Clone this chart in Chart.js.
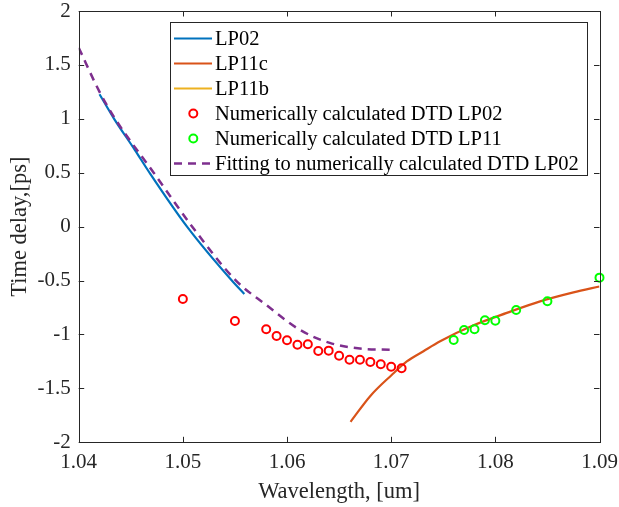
<!DOCTYPE html>
<html>
<head>
<meta charset="utf-8">
<script src="https://cdn.jsdelivr.net/npm/chart.js@4/dist/chart.umd.min.js"></script>
<style>
  html, body { margin: 0; padding: 0; background: #ffffff; }
  canvas { display: block; }
</style>
</head>
<body>
<canvas id="c" width="619" height="507"></canvas>
<script>
// ---- data ----
const xTicks = [1.04, 1.05, 1.06, 1.07, 1.08, 1.09];
const xTickLabels = ["1.04", "1.05", "1.06", "1.07", "1.08", "1.09"];
const yTicks = [-2, -1.5, -1, -0.5, 0, 0.5, 1, 1.5, 2];
const yTickLabels = ["-2", "-1.5", "-1", "-0.5", "0", "0.5", "1", "1.5", "2"];

const seriesNames = [
  "LP02",
  "LP11c",
  "LP11b",
  "Numerically calculated DTD LP02",
  "Numerically calculated DTD LP11",
  "Fitting to numerically calculated DTD LP02"
];

const lp02X = [1.0420, 1.0434, 1.0454, 1.0468, 1.0504, 1.0547, 1.0559];
const lp02Y = [1.228, 1.0, 0.71, 0.5, 0.0, -0.5, -0.624];

const lp11cX = [1.0661, 1.0680, 1.0700, 1.0715, 1.0731, 1.0747, 1.0779, 1.0811, 1.0843, 1.0875, 1.0900];
const lp11cY = [-1.81, -1.57, -1.38, -1.25, -1.155, -1.063, -0.915, -0.80, -0.693, -0.61, -0.555];

const lp11bX = [];
const lp11bY = [];

const numLp02X = [1.050, 1.055, 1.058, 1.059, 1.060, 1.061, 1.062, 1.063, 1.064, 1.065, 1.066, 1.067, 1.068, 1.069, 1.070, 1.071];
const numLp02Y = [-0.671, -0.875, -0.952, -1.014, -1.054, -1.095, -1.091, -1.153, -1.150, -1.197, -1.234, -1.234, -1.255, -1.276, -1.299, -1.314];

const numLp11X = [1.076, 1.077, 1.078, 1.079, 1.080, 1.082, 1.085, 1.090];
const numLp11Y = [-1.051, -0.958, -0.952, -0.868, -0.872, -0.773, -0.692, -0.473];

const fitX = [1.0400, 1.0420, 1.0435, 1.0472, 1.0509, 1.0551, 1.0580, 1.0612, 1.0641, 1.0670, 1.0700];
const fitY = [1.66, 1.25, 1.0, 0.5, 0.0, -0.5, -0.726, -0.955, -1.078, -1.13, -1.142];

// ---- helpers ----
const pts = (xs, ys) => xs.map((x, i) => ({ x: x, y: ys[i] }));
const FONT = "'Liberation Serif', 'Times New Roman', serif";
const AXIS_COLOR = '#262626';

function lineDs(label, xs, ys, color, width, dash, order) {
  return {
    label: label, data: pts(xs, ys), showLine: true,
    borderColor: color, backgroundColor: color, borderWidth: width,
    borderDash: dash || [], pointRadius: 0, pointHoverRadius: 0,
    cubicInterpolationMode: 'monotone', fill: false, order: order
  };
}
function markerDs(label, xs, ys, color, order) {
  return {
    label: label, data: pts(xs, ys), showLine: false,
    pointStyle: 'circle', pointRadius: 4, pointBorderWidth: 2,
    pointBorderColor: color, pointBackgroundColor: 'rgba(0,0,0,0)',
    borderColor: color, backgroundColor: 'rgba(0,0,0,0)',
    clip: false, order: order
  };
}

const datasets = [
  lineDs(seriesNames[0], lp02X, lp02Y, '#0072BD', 2.2, null, 6),
  lineDs(seriesNames[1], lp11cX, lp11cY, '#D95319', 2.2, null, 5),
  lineDs(seriesNames[2], lp11bX, lp11bY, '#EDB120', 2.2, null, 4),
  markerDs(seriesNames[3], numLp02X, numLp02Y, '#FF0000', 3),
  markerDs(seriesNames[4], numLp11X, numLp11Y, '#00FF00', 2),
  lineDs(seriesNames[5], fitX, fitY, '#7E2F8E', 2.5, [8, 6], 1)
];

// frame with inward ticks on all four sides (MATLAB box style)
const framePlugin = {
  id: 'frame',
  afterDatasetsDraw(chart) {
    const ctx = chart.ctx, a = chart.chartArea;
    const xs = chart.scales.x, ys = chart.scales.y;
    const tl = 5.5;
    ctx.save();
    ctx.strokeStyle = AXIS_COLOR;
    ctx.lineWidth = 1;
    ctx.setLineDash([]);
    ctx.strokeRect(Math.round(a.left) + 0.5, Math.round(a.top) + 0.5,
                   Math.round(a.right - a.left), Math.round(a.bottom - a.top));
    ctx.beginPath();
    xTicks.forEach(v => {
      const px = Math.round(xs.getPixelForValue(v)) + 0.5;
      ctx.moveTo(px, a.bottom); ctx.lineTo(px, a.bottom - tl);
      ctx.moveTo(px, a.top); ctx.lineTo(px, a.top + tl);
    });
    yTicks.forEach(v => {
      const py = Math.round(ys.getPixelForValue(v)) + 0.5;
      ctx.moveTo(a.left, py); ctx.lineTo(a.left + tl, py);
      ctx.moveTo(a.right, py); ctx.lineTo(a.right - tl, py);
    });
    ctx.stroke();
    ctx.restore();
  }
};

// legend box inside the plot, upper right
const legendPlugin = {
  id: 'legendBox',
  afterDraw(chart) {
    const ctx = chart.ctx;
    const x0 = 170.5, y0 = 22.5, w = 417, h = 153;
    ctx.save();
    ctx.fillStyle = '#ffffff';
    ctx.fillRect(x0, y0, w, h);
    ctx.strokeStyle = AXIS_COLOR;
    ctx.lineWidth = 1;
    ctx.strokeRect(x0, y0, w, h);
    chart.data.datasets.forEach((ds, i) => {
      const cy = 38.5 + 25 * i;
      if (ds.showLine) {
        ctx.strokeStyle = ds.borderColor;
        ctx.lineWidth = ds.borderWidth;
        ctx.setLineDash(ds.borderDash || []);
        ctx.beginPath();
        ctx.moveTo(174, cy); ctx.lineTo(212, cy);
        ctx.stroke();
        ctx.setLineDash([]);
      } else {
        ctx.strokeStyle = ds.pointBorderColor;
        ctx.lineWidth = 2;
        ctx.beginPath();
        ctx.arc(193.3, cy, 4, 0, Math.PI * 2);
        ctx.stroke();
      }
      ctx.fillStyle = '#000000';
      ctx.font = '20.5px ' + FONT;
      ctx.textBaseline = 'middle';
      ctx.textAlign = 'left';
      ctx.fillText(ds.label, 215, cy + 1);
    });
    ctx.restore();
  }
};

function zeroPad(s) {
  s.paddingTop = 0; s.paddingBottom = 0; s.paddingLeft = 0; s.paddingRight = 0;
}

Chart.defaults.font.family = FONT;
Chart.defaults.color = AXIS_COLOR;

new Chart(document.getElementById('c'), {
  type: 'scatter',
  data: { datasets: datasets },
  options: {
    responsive: false,
    devicePixelRatio: 1,
    animation: false,
    events: [],
    layout: { padding: { left: 0, top: 11, right: 19.5, bottom: 0 } },
    plugins: { legend: { display: false }, tooltip: { enabled: false } },
    scales: {
      x: {
        type: 'linear', min: 1.04, max: 1.09,
        afterBuildTicks: s => { s.ticks = xTicks.map(v => ({ value: v })); },
        afterFit: s => { s.height = 64.7; zeroPad(s); },
        grid: { display: false, drawTicks: false },
        border: { display: false },
        ticks: {
          padding: 8, color: AXIS_COLOR, font: { size: 21, family: FONT },
          maxRotation: 0, autoSkip: false,
          callback: (v) => xTickLabels[xTicks.findIndex(t => Math.abs(t - v) < 1e-9)]
        },
        title: {
          display: true, text: 'Wavelength, [um]', color: AXIS_COLOR,
          font: { size: 22.5, family: FONT }, padding: { top: 0, bottom: 1.5 }
        }
      },
      y: {
        type: 'linear', min: -2, max: 2,
        afterBuildTicks: s => { s.ticks = yTicks.map(v => ({ value: v })); },
        afterFit: s => { s.width = 78.7; zeroPad(s); },
        grid: { display: false, drawTicks: false },
        border: { display: false },
        ticks: {
          padding: 8, color: AXIS_COLOR, font: { size: 21, family: FONT },
          autoSkip: false,
          callback: (v) => yTickLabels[yTicks.findIndex(t => Math.abs(t - v) < 1e-9)]
        },
        title: {
          display: true, text: 'Time delay,[ps]', color: AXIS_COLOR,
          font: { size: 22.5, family: FONT }, padding: { top: 6.5, bottom: 0 }
        }
      }
    }
  },
  plugins: [framePlugin, legendPlugin]
});
</script>
</body>
</html>
